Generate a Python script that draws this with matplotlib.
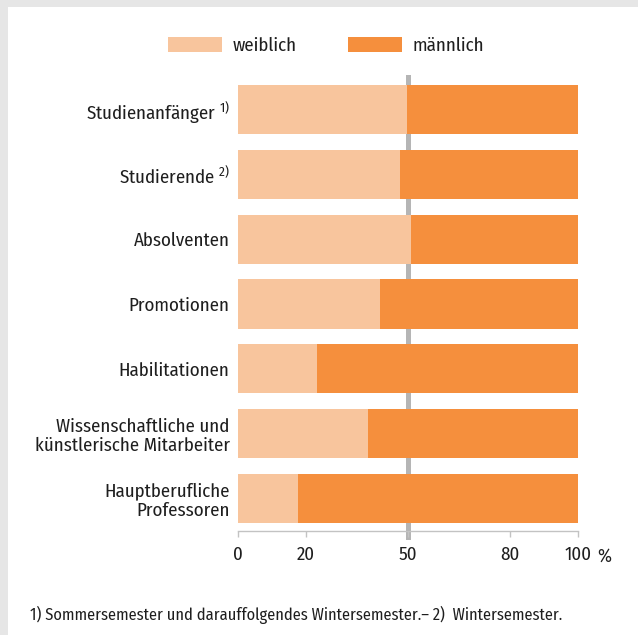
import matplotlib
matplotlib.use("Agg")
import matplotlib.pyplot as plt
from matplotlib.patches import Rectangle

plt.rcParams['font.family'] = ['Fira Sans Condensed', 'DejaVu Sans']
plt.rcParams['mathtext.fontset'] = 'custom'
plt.rcParams['mathtext.rm'] = 'Fira Sans Condensed'

categories = [
    "Studienanfänger $^{\\mathrm{1)}}$",
    "Studierende $^{\\mathrm{2)}}$",
    "Absolventen",
    "Promotionen",
    "Habilitationen",
    "Wissenschaftliche und\nkünstlerische Mitarbeiter",
    "Hauptberufliche\nProfessoren",
]
weiblich = [49.7, 47.7, 50.9, 41.8, 23.2, 38.2, 17.5]
maennlich = [100 - w for w in weiblich]
ticks = [0, 20, 50, 80, 100]
tick_labels = ["0", "20", "50", "80", "100"]
footnote = "1) Sommersemester und darauffolgendes Wintersemester.\u2013 2)  Wintersemester."

c_w = '#f8c59d'
c_m = '#f58f3d'
txt = '#1e1e1e'

fig = plt.figure(figsize=(6.38, 6.35), dpi=100, facecolor='#e6e6e6')
fig.patches.append(Rectangle((8 / 638, 0), 1, 1 - 7 / 635, transform=fig.transFigure,
                             facecolor='white', edgecolor='none', zorder=-5))

ax = fig.add_axes([238 / 638, (635 - 531) / 635, 340 / 638, 454 / 635])
ax.set_facecolor('none')

y = list(range(len(categories)))
ax.axvline(50, ymin=-0.014, ymax=1, color='#b5b5b5', lw=3.6, zorder=1, clip_on=False)
ax.barh(y, weiblich, height=0.756, color=c_w, label='weiblich', zorder=2)
ax.barh(y, maennlich, left=weiblich, height=0.756, color=c_m, label='männlich', zorder=2)

ax.set_xlim(0, 100)
ax.set_ylim(6.5, -0.5)
ax.set_yticks(y)
ax.set_yticklabels(categories, fontsize=13.6, color=txt, linespacing=1.12)
ax.tick_params(axis='y', length=0, pad=6)
ax.set_xticks(ticks)
ax.set_xticklabels(tick_labels, fontsize=13.6, color=txt)
ax.tick_params(axis='x', length=4.5, width=1, color='#c3c3c3', pad=6)
ax.text(1.078, -0.037, "%", transform=ax.transAxes, fontsize=13.6, color=txt,
        ha='center', va='top')

for s in ['top', 'right', 'left']:
    ax.spines[s].set_visible(False)
ax.spines['bottom'].set_color('#c3c3c3')
ax.spines['bottom'].set_linewidth(1)

leg = ax.legend(loc='center', bbox_to_anchor=(326 / 638, 1 - 46 / 635),
                bbox_transform=fig.transFigure, ncol=2, frameon=False,
                fontsize=13.6, handlelength=2.85, handleheight=0.85,
                handletextpad=0.55, columnspacing=2.75)
for t in leg.get_texts():
    t.set_color(txt)

fig.text(30 / 638, 1 - 615 / 635, footnote, fontsize=11.8, color=txt,
         ha='left', va='center')

fig.savefig('out.png', dpi=100, facecolor=fig.get_facecolor())
